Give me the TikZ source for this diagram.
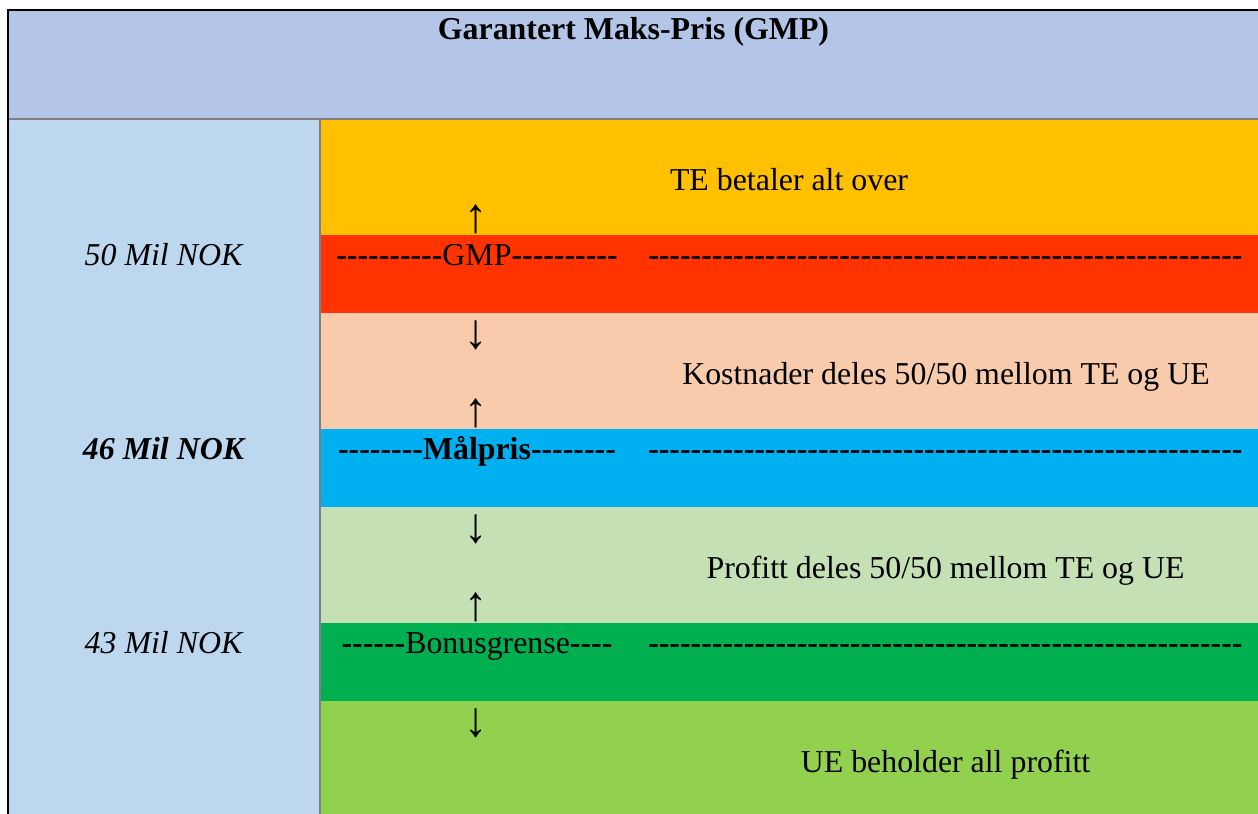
\documentclass[tikz,border=0pt]{standalone}
\usepackage{fontspec}
\setmainfont{Liberation Serif}[Ligatures=TeXOff]

\definecolor{headblue}{HTML}{B4C6E7}
\definecolor{sideblue}{HTML}{BDD7EE}
\definecolor{topband}{HTML}{FFC000}
\definecolor{gmpband}{HTML}{FF3300}
\definecolor{shareband}{HTML}{F8CBAD}
\definecolor{targetband}{HTML}{00B0F0}
\definecolor{profitband}{HTML}{C5E0B4}
\definecolor{bonusband}{HTML}{00B050}
\definecolor{keepband}{HTML}{92D050}
\definecolor{rulegray}{HTML}{808080}

% a run of #1 plain hyphens
\ExplSyntaxOn
\NewDocumentCommand\dashrun{m}{\prg_replicate:nn{#1}{-}}
\ExplSyntaxOff
% enlarged arrow glyph
\newcommand\tallglyph[1]{\scalebox{1.45}[1.55]{#1}}

\begin{document}
\begin{tikzpicture}[x=0.75pt,y=-0.75pt,
  every node/.style={inner sep=0pt, font=\fontsize{23.9}{28}\selectfont},
  txt/.style={anchor=base},
  leftlbl/.style={anchor=base, font=\fontsize{23.9}{28}\selectfont\itshape},
  arrowglyph/.style={anchor=center},
  rulefrm/.style={draw=rulegray, line width=1.5pt}]

\useasboundingbox (0,0) rectangle (1258,814);

% header and side column
\fill[headblue] (8,10) rectangle (1258,119);
\fill[sideblue] (8,119) rectangle (320,814);

% coloured bands
\fill[topband]    (320,119)   rectangle (1258,235);
\fill[gmpband]    (320,235)   rectangle (1258,312.7);
\fill[shareband]  (320,312.7) rectangle (1258,429);
\fill[targetband] (320,429)   rectangle (1258,506.7);
\fill[profitband] (320,506.7) rectangle (1258,622.7);
\fill[bonusband]  (320,622.7) rectangle (1258,700.7);
\fill[keepband]   (320,700.7) rectangle (1258,814);

% inner rules and outer frame
\draw[rulefrm] (8,119) -- (1258,119);
\draw[rulefrm] (320,119) -- (320,814);
\draw[black, line width=1.5pt] (8,814) -- (8,10) -- (1258,10);

% title
\node[txt, font=\fontsize{23.9}{28}\selectfont\bfseries] (title) at (633.5,39.5) {Garantert Maks-Pris (GMP)};

% side labels
\node[leftlbl] (v50) at (163.5,265) {50 Mil NOK};
\node[leftlbl, font=\fontsize{23.9}{28}\selectfont\bfseries\itshape] (v46) at (163.5,459) {46 Mil NOK};
\node[leftlbl] (v43) at (163.5,653) {43 Mil NOK};

% band texts
\node[txt] (over) at (789,190) {TE betaler alt over};
\node[txt] (share) at (946,384) {Kostnader deles 50/50 mellom TE og UE};
\node[txt] (profit) at (945.5,578) {Profitt deles 50/50 mellom TE og UE};
\node[txt] (keep) at (945.5,772) {UE beholder all profitt};

% threshold lines
\node[txt] (gmp) at (477,265) {{\bfseries\dashrun{10}}GMP{\bfseries\dashrun{10}}};
\node[txt, anchor=base west] (gmpdash) at (648,265) {\bfseries\dashrun{56}};
\node[txt, font=\fontsize{23.9}{28}\selectfont\bfseries] (target) at (477,459) {\dashrun{8}Målpris\dashrun{8}};
\node[txt, anchor=base west] (targetdash) at (648,459) {\bfseries\dashrun{56}};
\node[txt] (bonus) at (477,653) {{\bfseries\dashrun{6}}Bonusgrense{\bfseries\dashrun{4}}};
\node[txt, anchor=base west] (bonusdash) at (648,653) {\bfseries\dashrun{56}};

% arrows pointing away from each threshold
\node[arrowglyph] (up1) at (476,219.7) {\tallglyph{↑}};
\node[arrowglyph] (dn1) at (476,335) {\tallglyph{↓}};
\node[arrowglyph] (up2) at (476,413.7) {\tallglyph{↑}};
\node[arrowglyph] (dn2) at (476,529) {\tallglyph{↓}};
\node[arrowglyph] (up3) at (476,607.7) {\tallglyph{↑}};
\node[arrowglyph] (dn3) at (476,723) {\tallglyph{↓}};
\end{tikzpicture}
\end{document}
